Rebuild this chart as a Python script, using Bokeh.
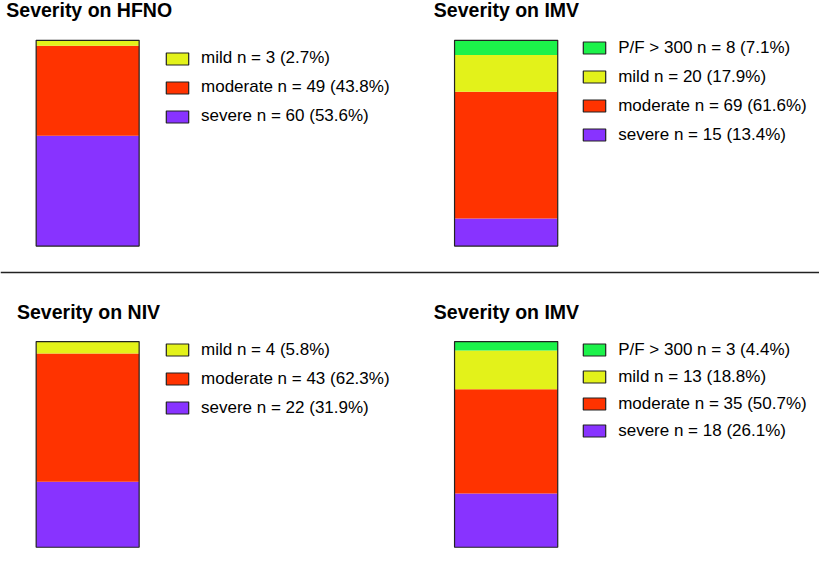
from bokeh.plotting import figure
from bokeh.models import Range1d, Label, Legend, LegendItem, Span
from bokeh.embed import file_html
from bokeh.resources import INLINE

# ---- data ----
hfno_cats = ["mild", "moderate", "severe"]
hfno_n = [3, 49, 60]
hfno_pct = [2.7, 43.8, 53.6]

imv1_cats = ["P/F > 300", "mild", "moderate", "severe"]
imv1_n = [8, 20, 69, 15]
imv1_pct = [7.1, 17.9, 61.6, 13.4]

niv_cats = ["mild", "moderate", "severe"]
niv_n = [4, 43, 22]
niv_pct = [5.8, 62.3, 31.9]

imv2_cats = ["P/F > 300", "mild", "moderate", "severe"]
imv2_n = [3, 13, 35, 18]
imv2_pct = [4.4, 18.8, 50.7, 26.1]

titles = ["Severity on HFNO", "Severity on IMV", "Severity on NIV", "Severity on IMV"]

COLORS = {"P/F > 300": "#1cf24a", "mild": "#e3f21a", "moderate": "#ff3300", "severe": "#8833ff"}

W, H = 819, 548
S = 548 / 564.0  # reference pixel -> figure pixel
FONT = "Liberation Sans"
NAN = float("nan")

p = figure(width=W, height=H, x_range=Range1d(0, W), y_range=Range1d(H, 0),
           output_backend="svg", toolbar_location=None,
           x_axis_location=None, y_axis_location=None, min_border=0)
p.grid.visible = False
p.outline_line_color = None
p.background_fill_color = "white"

panels = [
    dict(cats=hfno_cats, n=hfno_n, pct=hfno_pct, title=titles[0],
         bar=(36.7, 142.7, 41, 252.7), tx=6, ty=16.7, box_x=170.7, row0=60, pitch=29.5),
    dict(cats=imv1_cats, n=imv1_n, pct=imv1_pct, title=titles[1],
         bar=(467.3, 573.5, 41, 252.7), tx=446, ty=16.7, box_x=600, row0=49, pitch=29.7),
    dict(cats=niv_cats, n=niv_n, pct=niv_pct, title=titles[2],
         bar=(36.7, 142.7, 351, 562.7), tx=17, ty=328.3, box_x=170.7, row0=360, pitch=30),
    dict(cats=imv2_cats, n=imv2_n, pct=imv2_pct, title=titles[3],
         bar=(467.3, 573.5, 351, 562.7), tx=446, ty=328.3, box_x=600, row0=360, pitch=28),
]

GW, GH, STANDOFF, ITEM_H = 28, 15, 10, 20
TITLE_SHIFT = -7

for i, pn in enumerate(panels):
    x0, x1, yt, yb = [v * S for v in pn["bar"]]
    total = sum(pn["n"])
    k = total / (yb - yt)
    rname = f"r{i}"
    p.extra_y_ranges[rname] = Range1d(start=(yb - H) * k, end=yb * k)

    # stack from bottom: reversed category order
    cats = pn["cats"]
    ns = pn["n"]
    bottom = 0
    for c, n in reversed(list(zip(cats, ns))):
        p.vbar(x=[(x0 + x1) / 2], width=(x1 - x0), bottom=[bottom], top=[bottom + n],
               fill_color=COLORS[c], line_color=None, y_range_name=rname)
        bottom += n
    # outline of the whole bar
    p.vbar(x=[(x0 + x1) / 2], width=(x1 - x0), bottom=[0], top=[total],
           fill_color=None, line_color="#222222", line_width=1.2, y_range_name=rname)

    # title
    p.add_layout(Label(x=pn["tx"] * S, y=pn["ty"] * S + TITLE_SHIFT, text=pn["title"],
                       text_font=FONT, text_font_style="bold", text_font_size="19.5px",
                       text_color="black", text_baseline="alphabetic", text_align="left"))

    # legend
    items = []
    for c, n, pc in zip(cats, ns, pn["pct"]):
        r = p.vbar(x=[NAN], width=1, top=[NAN], bottom=[NAN], fill_color=COLORS[c],
                   line_color="#222222", line_width=1.2)
        items.append(LegendItem(label=f"{c} n = {n} ({pc}%)", renderers=[r], index=0))
    nitems = len(items)
    spacing = int(round(pn["pitch"] * S - ITEM_H))
    row0 = pn["row0"] * S
    leg_top = row0 - ITEM_H / 2
    leg_h = nitems * ITEM_H + (nitems - 1) * spacing
    leg_bottom = leg_top + leg_h
    gx = pn["box_x"] * S - 0.1 * GW
    legend = Legend(items=items, location=(gx, H - leg_bottom), padding=0, margin=0,
                    spacing=spacing, glyph_width=GW, glyph_height=GH,
                    label_standoff=STANDOFF, label_height=ITEM_H,
                    label_text_font=FONT, label_text_font_size="17px",
                    label_text_color="black", border_line_color=None,
                    background_fill_alpha=0)
    p.add_layout(legend, "center")

# separator line between the two rows
p.add_layout(Span(location=280 * S, dimension="width", line_color="#222222", line_width=1.5))

open("out.html", "w").write(file_html(p, INLINE))
